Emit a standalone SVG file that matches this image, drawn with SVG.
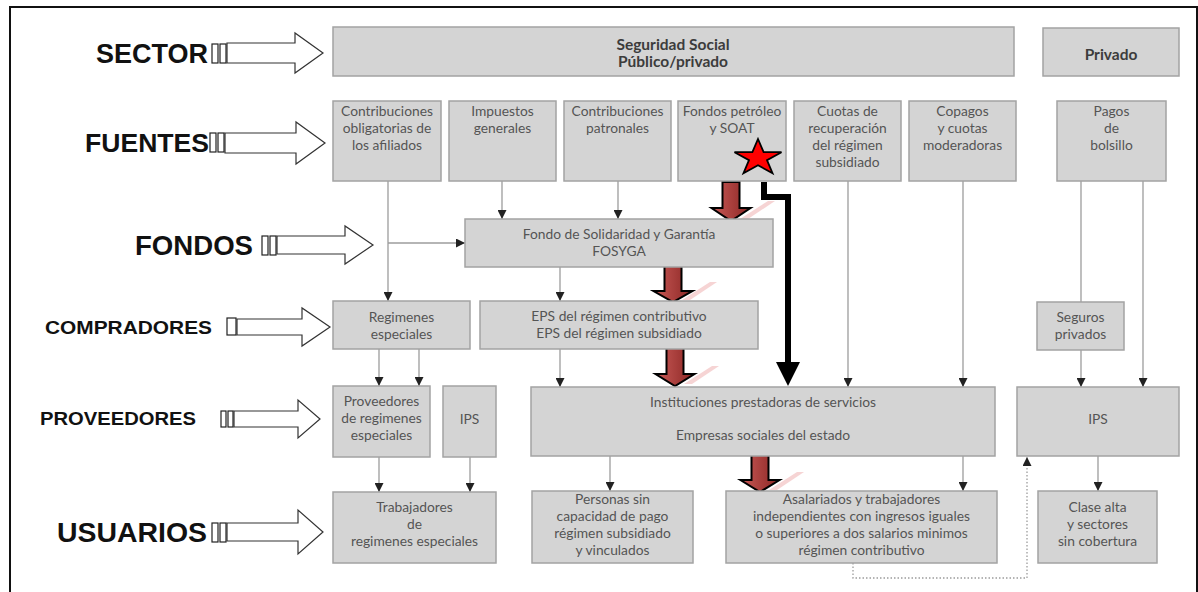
<svg xmlns="http://www.w3.org/2000/svg" width="1198" height="592" viewBox="0 0 1198 592">
<defs>
<style>
.bx{fill:#d4d4d4;stroke:#a3a3a3;stroke-width:1.5}
.t{font-family:Lato,"Open Sans",sans-serif;font-size:13.8px;fill:#555;text-anchor:middle}
.tb{font-family:Lato,"Open Sans",sans-serif;font-size:15.5px;font-weight:bold;fill:#3c3c3c;text-anchor:middle}
.lb{font-family:"Liberation Sans",Arial,sans-serif;font-weight:bold;fill:#111}
.ln{fill:none;stroke:#9c9c9c;stroke-width:1.3}
.ha{fill:#fff;stroke:#333;stroke-width:1.2}
.sq{fill:#fff;stroke:#222;stroke-width:1.2}
.ba{fill:url(#rg);stroke:#000;stroke-width:2}
.sh{fill:#f0b8b8;opacity:0.6}
</style>
<marker id="ah" viewBox="0 0 10 10" refX="10" refY="5" markerWidth="9" markerHeight="9" markerUnits="userSpaceOnUse" orient="auto">
<path d="M0,0 L10,5 L0,10 Z" fill="#222"/>
</marker>
<linearGradient id="rg" x1="0" y1="0" x2="1" y2="0">
<stop offset="0" stop-color="#c95a57"/>
<stop offset="1" stop-color="#8a2523"/>
</linearGradient>
</defs>
<rect x="0" y="0" width="1198" height="592" fill="#fff"/>
<rect x="10" y="7" width="1187" height="600" fill="none" stroke="#111" stroke-width="2"/>

<!-- left labels -->
<g id="lbl-sector">
<text class="lb" x="96" y="63" font-size="27" textLength="112" lengthAdjust="spacingAndGlyphs">SECTOR</text>
<rect class="sq" x="212" y="44" width="6" height="19"/><rect class="sq" x="220" y="44" width="6" height="19"/>
<path class="ha" d="M227,43 H295 V33 L323,53 L295,73 V63 H227 Z"/>
</g>
<g id="lbl-fuentes">
<text class="lb" x="85" y="152" font-size="26" textLength="124" lengthAdjust="spacingAndGlyphs">FUENTES</text>
<rect class="sq" x="210" y="133" width="6" height="19"/><rect class="sq" x="218" y="133" width="6" height="19"/>
<path class="ha" d="M225,133 H296 V122 L325,143 L296,164 V153 H225 Z"/>
</g>
<g id="lbl-fondos">
<text class="lb" x="135" y="255" font-size="27" textLength="118" lengthAdjust="spacingAndGlyphs">FONDOS</text>
<rect class="sq" x="262" y="236" width="6" height="19"/><rect class="sq" x="270" y="236" width="6" height="19"/>
<path class="ha" d="M277,236 H345 V226 L373,245 L345,264 V254 H277 Z"/>
</g>
<g id="lbl-compradores">
<text class="lb" x="45" y="334" font-size="18.5" textLength="167" lengthAdjust="spacingAndGlyphs">COMPRADORES</text>
<rect class="sq" x="227" y="318" width="9" height="17" stroke-width="2"/>
<path class="ha" d="M237,319 H302 V308 L330,327 L302,346 V335 H237 Z"/>
</g>
<g id="lbl-proveedores">
<text class="lb" x="40" y="425" font-size="17.5" textLength="156" lengthAdjust="spacingAndGlyphs">PROVEEDORES</text>
<rect class="sq" x="221" y="411" width="5" height="16"/><rect class="sq" x="228" y="411" width="5" height="16"/>
<path class="ha" d="M234,411 H298 V400 L320,419 L298,438 V427 H234 Z"/>
</g>
<g id="lbl-usuarios">
<text class="lb" x="57" y="542" font-size="27" textLength="150" lengthAdjust="spacingAndGlyphs">USUARIOS</text>
<rect class="sq" x="212" y="523" width="6" height="19"/><rect class="sq" x="220" y="523" width="6" height="19"/>
<path class="ha" d="M227,523 H298 V510 L323,532 L298,554 V541 H227 Z"/>
</g>

<!-- connectors -->
<g id="connectors">
<path class="ln" d="M388,181 V301" marker-end="url(#ah)"/>
<path class="ln" d="M388,243 H465" marker-end="url(#ah)"/>
<path class="ln" d="M502,181 V219" marker-end="url(#ah)"/>
<path class="ln" d="M618,181 V219" marker-end="url(#ah)"/>
<path class="ln" d="M560,267 V301" marker-end="url(#ah)"/>
<path class="ln" d="M560,349 V387" marker-end="url(#ah)"/>
<path class="ln" d="M848,181 V387" marker-end="url(#ah)"/>
<path class="ln" d="M963,181 V387" marker-end="url(#ah)"/>
<path class="ln" d="M1081,181 V302"/>
<path class="ln" d="M1081,350 V387" marker-end="url(#ah)"/>
<path class="ln" d="M1143,181 V387" marker-end="url(#ah)"/>
<path class="ln" d="M379,349 V386" marker-end="url(#ah)"/>
<path class="ln" d="M419,349 V386" marker-end="url(#ah)"/>
<path class="ln" d="M379,457 V492" marker-end="url(#ah)"/>
<path class="ln" d="M470,457 V492" marker-end="url(#ah)"/>
<path class="ln" d="M610,456 V491" marker-end="url(#ah)"/>
<path class="ln" d="M963,456 V491" marker-end="url(#ah)"/>
<path class="ln" d="M1098,456 V491" marker-end="url(#ah)"/>
<path class="ln" d="M853,563 V578 H1027 V457" stroke-dasharray="1.5,2" marker-end="url(#ah)"/>
<!-- black route from star -->
<path d="M764,182 V197 H788 V366" fill="none" stroke="#000" stroke-width="6"/>
<polygon points="776,362 800,362 788,386" fill="#000"/>
<!-- red block arrows -->
<polygon class="sh" points="740,219 768,201 775,201 748,219"/>
<path class="ba" d="M722.5,182 H739.5 V208 H750.5 L731,221 L711.5,208 H722.5 Z"/>
<polygon class="sh" points="682,300 710,282 717,282 690,300"/>
<path class="ba" d="M664.5,263 H681.5 V291 H692.5 L673,302 L653.5,291 H664.5 Z"/>
<polygon class="sh" points="684,384 712,366 719,366 692,384"/>
<path class="ba" d="M666.5,348 H683.5 V374 H694.5 L675,386 L655.5,374 H666.5 Z"/>
<polygon class="sh" points="769,490 797,472 804,472 777,490"/>
<path class="ba" d="M751.5,453 H768.5 V480 H779.5 L760,492 L740.5,480 H751.5 Z"/>
</g>

<!-- sector -->
<g id="n-seguridad"><rect class="bx" x="333" y="27" width="681" height="49"/>
<text class="tb" x="673" y="50">Seguridad Social</text><text class="tb" x="673" y="67">Público/privado</text></g>
<g id="n-privado"><rect class="bx" x="1043" y="28" width="136" height="48"/>
<text class="tb" x="1111" y="60">Privado</text></g>

<!-- fuentes -->
<g id="n-contrib-oblig"><rect class="bx" x="333" y="101" width="108" height="80"/>
<text class="t" x="387" y="116">Contribuciones</text><text class="t" x="387" y="133">obligatorias de</text><text class="t" x="387" y="150">los afiliados</text></g>
<g id="n-impuestos"><rect class="bx" x="449" y="101" width="107" height="80"/>
<text class="t" x="502.5" y="116">Impuestos</text><text class="t" x="502.5" y="133">generales</text></g>
<g id="n-contrib-patr"><rect class="bx" x="564" y="101" width="107" height="80"/>
<text class="t" x="617.5" y="116">Contribuciones</text><text class="t" x="617.5" y="133">patronales</text></g>
<g id="n-fondos-petroleo"><rect class="bx" x="678" y="101" width="108" height="80"/>
<text class="t" x="732" y="116">Fondos petróleo</text><text class="t" x="732" y="133">y SOAT</text>
<polygon points="758,139 763.6,152.2 781.5,152.2 767,160.2 772.5,173.2 758,165.2 743.5,173.2 749,160.2 734.5,152.2 752.4,152.2" fill="#ff0000" stroke="#000" stroke-width="1.8" stroke-linejoin="miter"/></g>
<g id="n-cuotas"><rect class="bx" x="794" y="101" width="107" height="80"/>
<text class="t" x="847.5" y="116">Cuotas de</text><text class="t" x="847.5" y="133">recuperación</text><text class="t" x="847.5" y="150">del régimen</text><text class="t" x="847.5" y="167">subsidiado</text></g>
<g id="n-copagos"><rect class="bx" x="909" y="101" width="107" height="80"/>
<text class="t" x="962.5" y="116">Copagos</text><text class="t" x="962.5" y="133">y cuotas</text><text class="t" x="962.5" y="150">moderadoras</text></g>
<g id="n-pagos"><rect class="bx" x="1057" y="101" width="109" height="80"/>
<text class="t" x="1111.5" y="116">Pagos</text><text class="t" x="1111.5" y="133">de</text><text class="t" x="1111.5" y="150">bolsillo</text></g>

<!-- fondos -->
<g id="n-fosyga"><rect class="bx" x="465" y="219" width="308" height="48"/>
<text class="t" x="619" y="239">Fondo de Solidaridad y Garantía</text><text class="t" x="619" y="256">FOSYGA</text></g>

<!-- compradores -->
<g id="n-regimenes"><rect class="bx" x="333" y="301" width="137" height="48"/>
<text class="t" x="401.5" y="322">Regimenes</text><text class="t" x="401.5" y="339">especiales</text></g>
<g id="n-eps"><rect class="bx" x="480" y="301" width="278" height="48"/>
<text class="t" x="619" y="321">EPS del régimen contributivo</text><text class="t" x="619" y="338">EPS del régimen subsidiado</text></g>
<g id="n-seguros"><rect class="bx" x="1037" y="302" width="87" height="48"/>
<text class="t" x="1080.5" y="322">Seguros</text><text class="t" x="1080.5" y="339">privados</text></g>

<!-- proveedores -->
<g id="n-prov-reg"><rect class="bx" x="333" y="386" width="97" height="71"/>
<text class="t" x="381.5" y="406">Proveedores</text><text class="t" x="381.5" y="423">de regimenes</text><text class="t" x="381.5" y="440">especiales</text></g>
<g id="n-ips-left"><rect class="bx" x="443" y="386" width="53" height="71"/>
<text class="t" x="469.5" y="424">IPS</text></g>
<g id="n-instituciones"><rect class="bx" x="531" y="387" width="464" height="69"/>
<text class="t" x="763" y="407">Instituciones prestadoras de servicios</text><text class="t" x="763" y="440">Empresas sociales del estado</text></g>
<g id="n-ips-right"><rect class="bx" x="1017" y="387" width="162" height="69"/>
<text class="t" x="1098" y="424">IPS</text></g>

<!-- usuarios -->
<g id="n-trabajadores"><rect class="bx" x="333" y="492" width="163" height="71"/>
<text class="t" x="414.5" y="512">Trabajadores</text><text class="t" x="414.5" y="529">de</text><text class="t" x="414.5" y="546">regimenes especiales</text></g>
<g id="n-personas"><rect class="bx" x="532" y="491" width="161" height="72"/>
<text class="t" x="612.5" y="504">Personas sin</text><text class="t" x="612.5" y="521">capacidad de pago</text><text class="t" x="612.5" y="538">régimen subsidiado</text><text class="t" x="612.5" y="555">y vinculados</text></g>
<g id="n-asalariados"><rect class="bx" x="726" y="491" width="271" height="72"/>
<text class="t" x="861.5" y="504">Asalariados y trabajadores</text><text class="t" x="861.5" y="521">independientes con ingresos iguales</text><text class="t" x="861.5" y="538">o superiores a dos salarios minimos</text><text class="t" x="861.5" y="555">régimen contributivo</text></g>
<g id="n-clase-alta"><rect class="bx" x="1038" y="491" width="119" height="72"/>
<text class="t" x="1097.5" y="512">Clase alta</text><text class="t" x="1097.5" y="529">y sectores</text><text class="t" x="1097.5" y="546">sin cobertura</text></g>
</svg>
